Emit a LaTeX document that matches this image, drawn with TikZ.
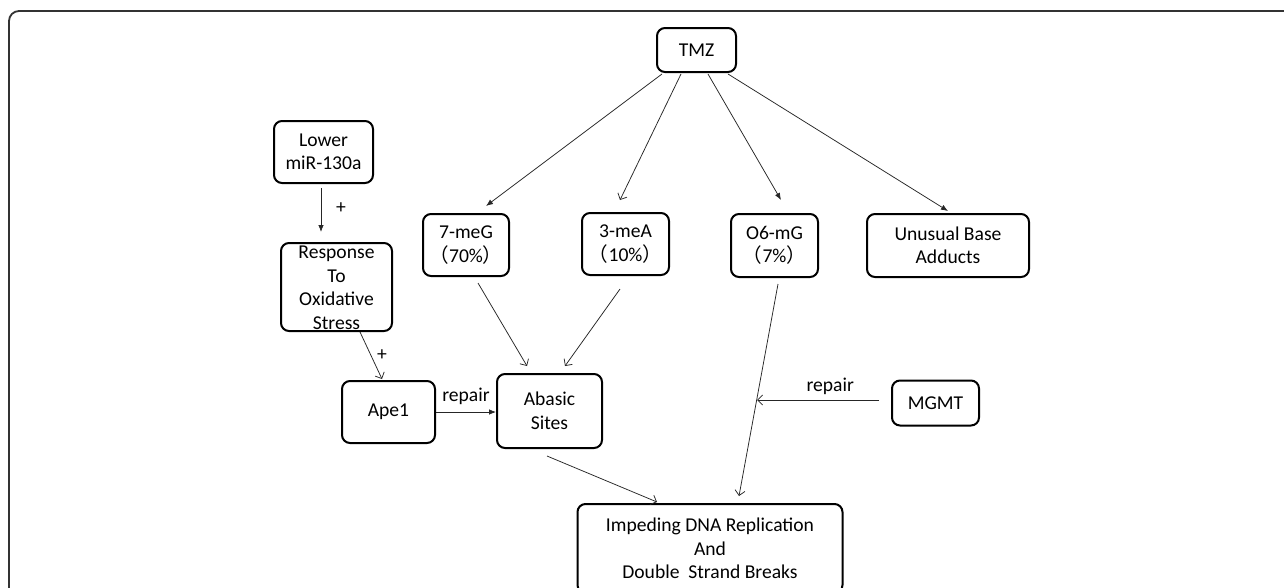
\documentclass[tikz,border=0pt]{standalone}
\usepackage{fontspec}
\setmainfont{Carlito}
\newfontfamily\cjk{Noto Sans CJK SC}
\usetikzlibrary{arrows.meta}
\tikzset{
 box/.style={draw, line width=2pt, rounded corners=8pt, inner sep=0pt, align=center, font=\fontsize{19.6}{23.5}\selectfont},
 txt/.style={align=center, font=\fontsize{19.6}{23.5}\selectfont, inner sep=0pt},
 conn/.style={line width=0.75pt, draw=black!85},
 fa/.style={conn, -{Latex[length=7pt,width=5.5pt]}},
 oa/.style={conn, -{Straight Barb[length=5pt,width=10pt]}},
 lbl/.style={font=\fontsize{19.6}{23.5}\selectfont, inner sep=0pt},
}
\begin{document}
\begin{tikzpicture}[x=1pt,y=-1pt]
\fill[white] (0,0) rectangle (1284,587);
\useasboundingbox (0,0) rectangle (1284,587);
\draw[line width=1.8pt, draw=black!80, rounded corners=10pt] (9,620) -- (9,11) -- (1300,11);

\node[box, minimum width=79pt, minimum height=44pt] (tmz) at (696.5,50) {TMZ};
\node[box, minimum width=99pt, minimum height=62pt] (lower) at (323.5,152) {Lower\\miR-130a};
\node[box, minimum width=111pt, minimum height=88pt] (resp) at (336.5,287) {};
\node[txt] (resptxt) at (336.5,288) {Response\\To\\Oxidative\\Stress};
\node[box, minimum width=86pt, minimum height=62pt] (m7) at (466,245) {7-meG\\{\cjk （}70\%{\cjk ）}};
\node[box, minimum width=87pt, minimum height=62pt] (m3) at (625.5,244) {3-meA\\{\cjk （}10\%{\cjk ）}};
\node[box, minimum width=87pt, minimum height=63pt] (o6) at (774.5,245.5) {O6-mG\\{\cjk （}7\%{\cjk ）}};
\node[box, minimum width=162pt, minimum height=63pt] (unus) at (948,245.5) {Unusual Base\\Adducts};
\node[box, minimum width=93pt, minimum height=62pt] (ape) at (388.5,412) {Ape1};
\node[box, minimum width=105pt, minimum height=74pt] (abasic) at (549.5,411) {Abasic\\Sites};
\node[box, minimum width=87pt, minimum height=45pt] (mgmt) at (935.5,403) {MGMT};
\node[box, minimum width=265pt, minimum height=89pt] (imp) at (710,548.5) {Impeding DNA Replication\\And\\Double\ \ Strand Breaks};

\draw[fa] ([xshift=6pt,yshift=-1pt]tmz.south west) -- ([xshift=20pt,yshift=7pt]m7.north);
\draw[oa] ([xshift=-15.5pt,yshift=-1pt]tmz.south) -- ([xshift=-5.5pt,yshift=12pt]m3.north);
\draw[fa] ([xshift=11.5pt,yshift=-1pt]tmz.south) -- ([xshift=6.5pt,yshift=13pt]o6.north);
\draw[fa] ([xshift=31.5pt,yshift=-1pt]tmz.south) -- ([yshift=2pt]unus.north);

\draw[fa] ([xshift=-2.5pt,yshift=-4pt]lower.south) -- node[lbl, pos=0.45, xshift=20pt] {+} ([xshift=-15.5pt,yshift=10pt]resp.north);
\draw[oa] ([xshift=23.5pt,yshift=0pt]resp.south) -- node[lbl, pos=0.5, xshift=11pt] {+} ([xshift=-6.5pt,yshift=1pt]ape.north);
\draw[fa] (ape.east) -- node[lbl, above=7pt] {repair} (abasic.west |- ape.east);

\draw[oa] ([xshift=12pt,yshift=-6pt]m7.south) -- ([xshift=-22.5pt,yshift=7pt]abasic.north);
\draw[oa] ([xshift=-5.5pt,yshift=-13pt]m3.south) -- ([xshift=15.5pt,yshift=7pt]abasic.north);

\draw[oa] ([xshift=3.5pt,yshift=-6pt]o6.south) -- ([xshift=29pt,yshift=7pt]imp.north);
\coordinate (junc) at (757,400);
\draw[oa] ([xshift=-12pt,yshift=3pt]mgmt.west) -- node[lbl, pos=0.4, above=5pt] {repair} (junc);
\draw[oa] ([xshift=-2.5pt,yshift=-7pt]abasic.south) -- ([xshift=-53pt,yshift=1pt]imp.north);
\end{tikzpicture}
\end{document}
